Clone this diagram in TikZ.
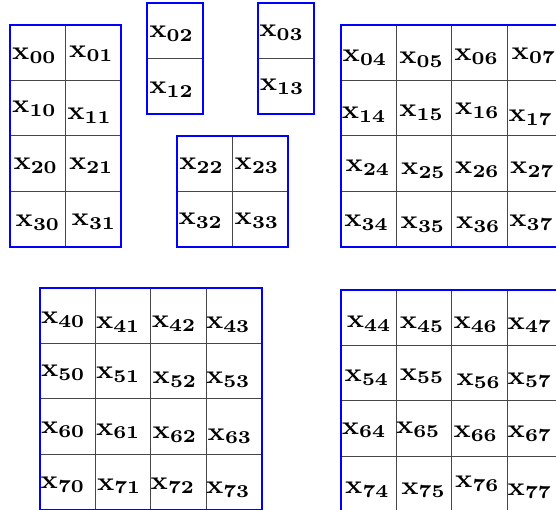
\documentclass[tikz,border=0pt]{standalone}
\usepackage{graphicx}
\newcommand\xl[1]{\scalebox{2.85}[2.6]{$\mathbf{x_{#1}}$}}
\begin{document}
\begin{tikzpicture}[x=1pt,y=-1pt,
  cell/.style={draw=black!72, line width=0.8pt, minimum width=55.4pt, minimum height=55.4pt, inner sep=0pt},
  lbl/.style={anchor=base, inner sep=0pt},
  blk/.style={draw=blue, line width=2pt}]
\useasboundingbox (0,0) rectangle (556,510);
\clip (0,0) rectangle (556,510.6);
\foreach \n/\cx/\cy/\tx/\ty in {
  00/37.7/52.7/34.5/60, 01/93.1/52.7/91.5/58,
  10/37.7/108.1/34.5/113, 11/93.1/108.1/89.7/120,
  20/37.7/163.5/35.8/170, 21/93.1/163.5/91.3/170,
  30/37.7/218.9/38/226.7, 31/93.1/218.9/94/226,
  02/175.2/30.7/171.7/37.3, 12/175.2/86.1/171.7/93.3,
  03/286.0/30.7/281.7/36.7, 13/286.0/86.1/282.2/90.5,
  22/204.7/163.7/201.7/170, 23/260.1/163.7/257/170,
  32/204.7/219.1/200.8/225, 33/260.1/219.1/257/225,
  04/368.7/52.7/365/61.7, 05/424.1/52.7/421.7/63.3, 06/479.5/52.7/476.7/60.7, 07/534.9/52.7/534/60,
  14/368.7/108.1/364.2/118.3, 15/424.1/108.1/421.7/116.7, 16/479.5/108.1/477.5/115, 17/534.9/108.1/530.8/121.7,
  24/368.7/163.5/368/171.7, 25/424.1/163.5/423.5/175, 26/479.5/163.5/477.5/173.3, 27/534.9/163.5/532.5/173.3,
  34/368.7/218.9/366.7/226.7, 35/424.1/218.9/423/228.3, 36/479.5/218.9/478.3/228.3, 37/534.9/218.9/531.7/226.7,
  40/67.7/315.7/63.3/323.3, 41/123.1/315.7/118.3/328.3, 42/178.5/315.7/174.2/327.3, 43/233.9/315.7/228.3/328.3,
  50/67.7/371.1/63.3/376.7, 51/123.1/371.1/118.3/378.3, 52/178.5/371.1/175/383.3, 53/233.9/371.1/228.3/383.3,
  60/67.7/426.5/63.3/433.3, 61/123.1/426.5/118.3/435, 62/178.5/426.5/175/438.3, 63/233.9/426.5/230/440,
  70/67.7/481.9/63/488.3, 71/123.1/481.9/119.3/490, 72/178.5/481.9/173/489.3, 73/233.9/481.9/228.3/493.3,
  44/368.7/317.7/369.2/327.3, 45/424.1/317.7/422.2/328.3, 46/479.5/317.7/475.8/328.3, 47/534.9/317.7/530/329,
  54/368.7/373.1/367/381.7, 55/424.1/373.1/422.2/380, 56/479.5/373.1/478.8/385, 57/534.9/373.1/530/384,
  64/368.7/428.5/364.2/434, 65/424.1/428.5/418.3/433.3, 66/479.5/428.5/475.8/437.3, 67/534.9/428.5/530/437.3,
  74/368.7/483.9/367.5/493.3, 75/424.1/483.9/423.7/494, 76/479.5/483.9/477.5/487.3, 77/534.9/483.9/530/495}
{
  \node[cell] (c\n) at (\cx,\cy) {};
  \node[lbl] (t\n) at (\tx,\ty) {\xl{\n}};
}
\draw[blk] (c00.north west) rectangle (c31.south east);
\draw[blk] (c02.north west) rectangle (c12.south east);
\draw[blk] (c03.north west) rectangle (c13.south east);
\draw[blk] (c22.north west) rectangle (c33.south east);
\draw[blk] (c04.north west) rectangle (c37.south east);
\draw[blk] (c40.north west) rectangle (c73.south east);
\draw[blk] (c44.north west) rectangle (c77.south east);
\end{tikzpicture}
\end{document}
